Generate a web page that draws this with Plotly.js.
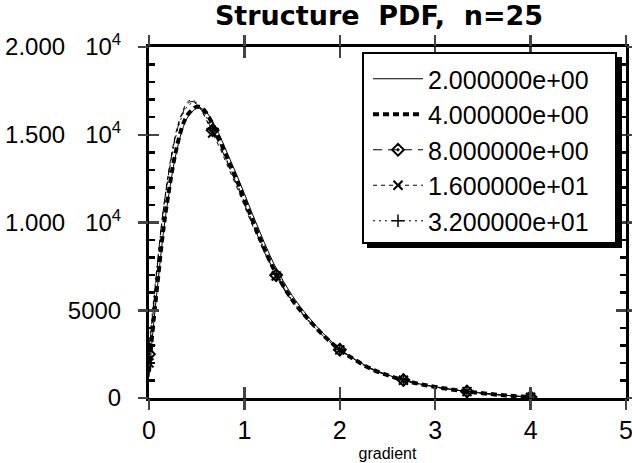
<!DOCTYPE html>
<html>
<head>
<meta charset="utf-8">
<script src="https://cdn.plot.ly/plotly-3.0.1.min.js"></script>
<style>html,body{margin:0;padding:0;background:#fff;}#chart{width:632px;height:463px;}</style>
</head>
<body>
<div id="chart"></div>
<script>
// gradient values
const gradient = [0, 0.033, 0.067, 0.1, 0.133, 0.167, 0.2, 0.25, 0.3, 0.35, 0.4, 0.45, 0.5, 0.55, 0.6, 0.667, 0.75, 0.833, 0.917, 1.0, 1.083, 1.167, 1.25, 1.333, 1.5, 1.667, 1.833, 2.0, 2.167, 2.333, 2.5, 2.667, 2.833, 3.0, 3.167, 3.333, 3.5, 3.667, 3.833, 4.0];
// PDF series
const pdf_2 = [1200, 3300, 5200, 6900, 8600, 10100, 11300, 13000, 14300, 15300, 15950, 16300, 16500, 16500, 16300, 15750, 14850, 13800, 12750, 11650, 10500, 9400, 8350, 7400, 5850, 4650, 3650, 2800, 2180, 1680, 1320, 1040, 810, 640, 495, 375, 275, 185, 115, 55];
const pdf_4 = [1500, 3600, 5400, 7100, 8800, 10300, 11500, 13200, 14500, 15500, 16100, 16400, 16600, 16550, 16250, 15600, 14600, 13500, 12450, 11300, 10150, 9050, 8000, 7100, 5600, 4500, 3550, 2750, 2150, 1650, 1300, 1020, 800, 630, 490, 370, 270, 180, 110, 50];
const pdf_8 = [2500, 4500, 6500, 8300, 10000, 11400, 12600, 14200, 15400, 16200, 16750, 16900, 16750, 16400, 15900, 15250, 14300, 13250, 12200, 11050, 9950, 8900, 7900, 7000, 5550, 4450, 3500, 2750, 2150, 1650, 1300, 1020, 800, 630, 490, 370, 270, 180, 110, 50];
const pdf_16 = [2000, 4200, 6300, 8200, 9900, 11400, 12700, 14300, 15500, 16300, 16850, 17000, 16800, 16400, 15850, 15100, 14150, 13100, 12050, 10950, 9850, 8800, 7850, 6950, 5500, 4420, 3480, 2740, 2140, 1640, 1290, 1010, 790, 625, 485, 365, 265, 175, 105, 45];
const pdf_32 = [3000, 4800, 6600, 8300, 9900, 11300, 12500, 14100, 15300, 16100, 16600, 16800, 16750, 16450, 16000, 15350, 14400, 13350, 12300, 11150, 10050, 9000, 8000, 7050, 5580, 4470, 3520, 2760, 2150, 1650, 1300, 1020, 800, 630, 490, 370, 270, 180, 110, 50];
const seriesNames = ['2.000000e+00', '4.000000e+00', '8.000000e+00', '1.600000e+01', '3.200000e+01'];
// points carrying a symbol (every 2/3 in gradient)
const markerAt = [0, 0.667, 1.333, 2.0, 2.667, 3.333, 4.0];
const xTickVals = [0, 1, 2, 3, 4, 5];
const yTickVals = [0, 5000, 10000, 15000, 20000];
const yTickText = ['0', '5000', '1.000&nbsp;&nbsp; 10<sup>4</sup>', '1.500&nbsp;&nbsp; 10<sup>4</sup>', '2.000&nbsp;&nbsp; 10<sup>4</sup>'];

const FONT = 'Liberation Sans, Arial, sans-serif';
const isMark = gradient.map(g => markerAt.some(m => Math.abs(m - g) < 1e-6));
const mCol = isMark.map(v => v ? '#000' : 'rgba(0,0,0,0)');

const traces = [
  {x: gradient, y: pdf_2, name: seriesNames[0], mode: 'lines', line: {color: '#000', width: 1, shape: 'spline'}},
  {x: gradient, y: pdf_4, name: seriesNames[1], mode: 'lines', line: {color: '#000', width: 4, dash: '6px,4px', shape: 'spline'}},
  {x: gradient, y: pdf_8, name: seriesNames[2], mode: 'lines+markers', line: {color: '#000', width: 1, dash: '9px,6px', shape: 'spline'},
   marker: {symbol: 'diamond-open-dot', size: 9, color: mCol, line: {width: 2, color: mCol}}},
  {x: gradient, y: pdf_16, name: seriesNames[3], mode: 'lines+markers', line: {color: '#000', width: 1, dash: '4px,4px', shape: 'spline'},
   marker: {symbol: 'x-thin', size: 9, color: mCol, line: {width: 2, color: mCol}}},
  {x: gradient, y: pdf_32, name: seriesNames[4], mode: 'lines+markers', xaxis: 'x2', yaxis: 'y2', line: {color: '#000', width: 1, dash: '2px,4px', shape: 'spline'},
   marker: {symbol: 'cross-thin', size: 9, color: mCol, line: {width: 1.5, color: mCol}}}
];

const L = 149, R = 6, T = 47, B = 65, W = 632, H = 463;
const pw = W - L - R, ph = H - T - B;
const px2x = p => (p - L) / pw;
const py2y = p => (H - B - p) / ph;

const layout = {
  width: W, height: H,
  margin: {l: L, r: R, t: T, b: B, pad: 0},
  paper_bgcolor: '#fff', plot_bgcolor: '#fff',
  font: {family: FONT, size: 25, color: '#000'},
  showlegend: true,
  title: {text: '<b>Structure  PDF,  n=25</b>', font: {family: 'DejaVu Sans, sans-serif', size: 27, color: '#000'},
          x: 379 / W, xanchor: 'center', y: 1 - 16 / H, yanchor: 'middle', xref: 'container', yref: 'container'},
  xaxis: {range: [0, 5], tickvals: xTickVals, ticktext: xTickVals.map(String), ticks: 'inside', ticklen: 11, tickwidth: 2.5,
          showline: true, linewidth: 3, linecolor: '#000', mirror: 'ticks', showgrid: false, zeroline: false,
          tickfont: {family: FONT, size: 25}, ticklabelstandoff: 8, ticklabeloverflow: 'allow',
          title: {text: 'gradient', font: {family: FONT, size: 16}, standoff: 5}},
  yaxis: {range: [0, 20000], tickvals: yTickVals, ticktext: yTickText, ticks: 'inside', ticklen: 10, tickwidth: 2.5,
          showline: true, linewidth: 3, linecolor: '#000', mirror: 'ticks', showgrid: false, zeroline: false,
          tickfont: {family: FONT, size: 24}, ticklabelstandoff: 20, ticklabeloverflow: 'allow',
          minor: {dtick: 1000, tick0: 0, ticks: 'inside', ticklen: 6, tickwidth: 2.5, tickcolor: '#000', showgrid: false}},
  xaxis2: {overlaying: 'x', anchor: 'y2', range: [0, 5], tickvals: xTickVals, ticks: 'outside', ticklen: 11, tickwidth: 2.5,
           showticklabels: false, showline: false, mirror: 'ticks', showgrid: false, zeroline: false},
  yaxis2: {overlaying: 'y', anchor: 'x2', side: 'left', range: [0, 20000], tickvals: yTickVals, ticks: 'outside', ticklen: 10, tickwidth: 2.5,
           showticklabels: false, showline: false, mirror: 'ticks', showgrid: false, zeroline: false},
  legend: {x: px2x(368), y: py2y(56), xanchor: 'left', yanchor: 'top', bgcolor: 'rgba(0,0,0,0)', borderwidth: 0,
           font: {family: FONT, size: 25, color: '#000'}, itemsizing: 'trace', itemwidth: 50, tracegroupgap: 0},
  shapes: [
    {type: 'rect', xref: 'paper', yref: 'paper', x0: px2x(367), x1: px2x(622), y0: py2y(248), y1: py2y(57),
     fillcolor: '#000', line: {width: 0}, layer: 'above'},
    {type: 'rect', xref: 'paper', yref: 'paper', x0: px2x(363), x1: px2x(616), y0: py2y(243), y1: py2y(53),
     fillcolor: '#fff', line: {width: 2, color: '#000'}, layer: 'above'}
  ]
};

Plotly.newPlot('chart', traces, layout, {staticPlot: true, displayModeBar: false});
</script>
</body>
</html>
